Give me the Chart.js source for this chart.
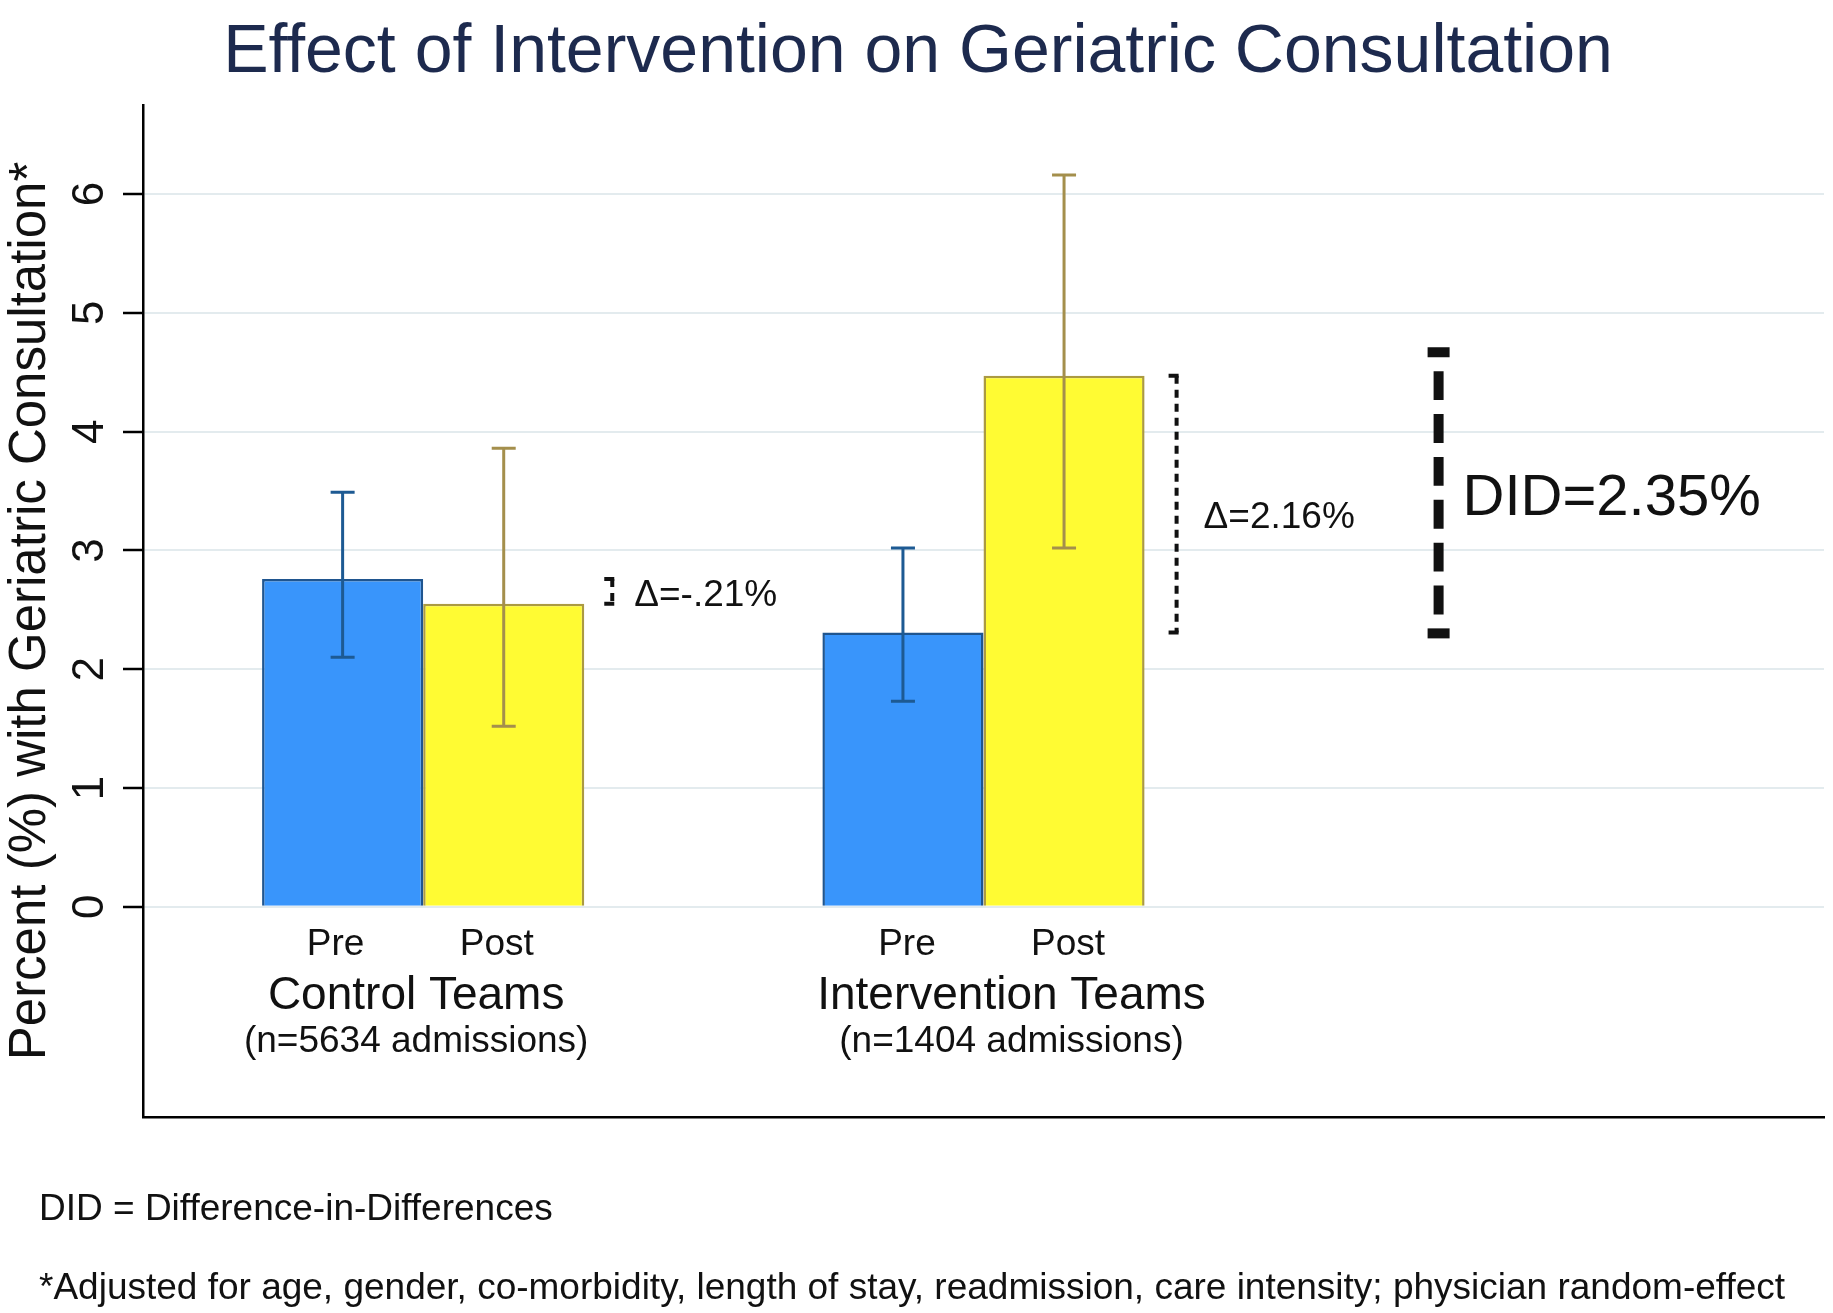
<!DOCTYPE html>
<html>
<head>
<meta charset="utf-8">
<script src="https://cdn.jsdelivr.net/npm/chart.js@4.4.1/dist/chart.umd.min.js"></script>
<style>
  html, body { margin: 0; padding: 0; background: #fff; }
  canvas { display: block; }
</style>
</head>
<body>
<canvas id="didChart" width="1833" height="1313"></canvas>
<script>
// groups on the x axis (third slot is left empty for the DID marker)
const groups = ['Control Teams', 'Intervention Teams', ''];
const groupSizes = ['(n=5634 admissions)', '(n=1404 admissions)'];
const phases = ['Pre', 'Post'];

// percent with geriatric consultation
const preValues = [2.76, 2.31];
const postValues = [2.55, 4.47];

// 95% CI bounds
const preLow = [2.10, 1.73];
const preHigh = [3.49, 3.02];
const postLow = [1.52, 3.02];
const postHigh = [3.86, 6.16];

const deltaLabels = ['Δ=-.21%', 'Δ=2.16%'];
const didValue = 2.35;
const didLabel = 'DID=2.35%';

const yTicks = [0, 1, 2, 3, 4, 5, 6];

const chartTitle = 'Effect of Intervention on Geriatric Consultation';
const yTitle = 'Percent (%) with Geriatric Consultation*';
const footnotes = [
  'DID = Difference-in-Differences',
  '*Adjusted for age, gender, co-morbidity, length of stay, readmission, care intensity; physician random-effect'
];

const FONT = "'Liberation Sans', Arial, Helvetica, sans-serif";

const errorBars = {
  id: 'errorBars',
  afterDatasetsDraw(chart) {
    const ctx = chart.ctx;
    const y = chart.scales.y;
    const bounds = [[preLow, preHigh, '#1d5a93'], [postLow, postHigh, '#a48f4c']];
    bounds.forEach(([lo, hi, color], i) => {
      const meta = chart.getDatasetMeta(i);
      meta.data.forEach((bar, j) => {
        if (lo[j] == null) return;
        const yLo = y.getPixelForValue(lo[j]);
        const yHi = y.getPixelForValue(hi[j]);
        ctx.save();
        ctx.strokeStyle = color;
        ctx.lineWidth = 3;
        ctx.beginPath();
        ctx.moveTo(bar.x, yLo);
        ctx.lineTo(bar.x, yHi);
        ctx.moveTo(bar.x - 12, yLo);
        ctx.lineTo(bar.x + 12, yLo);
        ctx.moveTo(bar.x - 12, yHi);
        ctx.lineTo(bar.x + 12, yHi);
        ctx.stroke();
        ctx.restore();
      });
    });
  }
};

function bracket(ctx, x, yTop, yBot, width, dash, cap) {
  ctx.save();
  ctx.strokeStyle = '#111';
  ctx.lineWidth = width;
  ctx.setLineDash(dash);
  ctx.beginPath();
  ctx.moveTo(x, yTop);
  ctx.lineTo(x, yBot);
  ctx.stroke();
  ctx.setLineDash([]);
  ctx.beginPath();
  ctx.moveTo(x - cap, yTop);
  ctx.lineTo(x + width / 2, yTop);
  ctx.moveTo(x - cap, yBot);
  ctx.lineTo(x + width / 2, yBot);
  ctx.stroke();
  ctx.restore();
}

const annotations = {
  id: 'annotations',
  afterDraw(chart) {
    const ctx = chart.ctx;
    const y = chart.scales.y;
    const preMeta = chart.getDatasetMeta(0);
    const postMeta = chart.getDatasetMeta(1);

    ctx.save();
    ctx.fillStyle = '#111';
    ctx.textBaseline = 'middle';

    // delta brackets next to each group
    for (let j = 0; j < 2; j++) {
      const post = postMeta.data[j];
      const x = post.x + post.width / 2 + (j === 0 ? 28 : 32);
      const yA = y.getPixelForValue(preValues[j]);
      const yB = y.getPixelForValue(postValues[j]);
      bracket(ctx, x, Math.min(yA, yB), Math.max(yA, yB), 4, [8, 6], 8);
      ctx.font = '37px ' + FONT;
      ctx.textAlign = 'left';
      ctx.fillText(deltaLabels[j], x + (j === 0 ? 22 : 27), (yA + yB) / 2 + (j === 1 ? 14 : 4));
    }

    // difference-in-differences marker
    const ip = postMeta.data[1];
    const dx = ip.x + ip.width / 2 + 294;
    const dBot = y.getPixelForValue(preValues[1]);
    const dTop = y.getPixelForValue(preValues[1] + didValue);
    const gap = 14;
    const nDash = 6;
    const span = (dBot - 4) - (dTop + 4) - 2 * gap;
    const dashLen = (span - (nDash - 1) * gap) / nDash;
    ctx.save();
    ctx.strokeStyle = '#111';
    ctx.lineWidth = 10;
    ctx.setLineDash([dashLen, gap]);
    ctx.beginPath();
    ctx.moveTo(dx, dTop + 4 + gap);
    ctx.lineTo(dx, dBot - 4 - gap + 0.5);
    ctx.stroke();
    ctx.restore();
    ctx.fillRect(dx - 11, dTop - 6, 22, 10);
    ctx.fillRect(dx - 11, dBot - 4, 22, 10);
    ctx.font = '58px ' + FONT;
    ctx.fillText(didLabel, dx + 24, (dTop + dBot) / 2 + 6);

    // labels under the bars
    ctx.textAlign = 'center';
    for (let j = 0; j < 2; j++) {
      const pre = preMeta.data[j];
      const post = postMeta.data[j];
      const shift = j === 0 ? -7 : 4;
      ctx.font = '37px ' + FONT;
      ctx.fillText(phases[0], pre.x + shift, 945);
      ctx.fillText(phases[1], post.x + shift, 945);
      const cx = (pre.x + post.x) / 2 + (j === 1 ? 28 : -7);
      ctx.font = '46px ' + FONT;
      ctx.fillText(groups[j], cx, 996);
      ctx.font = '37px ' + FONT;
      ctx.fillText(groupSizes[j], cx, 1042);
    }

    // title
    ctx.fillStyle = '#1d2a4e';
    ctx.font = '68px ' + FONT;
    ctx.fillText(chartTitle, 918, 53);

    // footnotes
    ctx.fillStyle = '#111';
    ctx.textAlign = 'left';
    ctx.font = '37px ' + FONT;
    ctx.fillText(footnotes[0], 39, 1210);
    ctx.fillText(footnotes[1], 39, 1289);
    ctx.restore();
  }
};

new Chart(document.getElementById('didChart'), {
  type: 'bar',
  data: {
    labels: groups,
    datasets: [{
      label: phases[0],
      data: preValues,
      backgroundColor: '#3995fb',
      borderColor: '#1f558f',
      borderWidth: 2.5,
      categoryPercentage: 0.575,
      barPercentage: 1.0
    }, {
      label: phases[1],
      data: postValues,
      backgroundColor: '#fffb33',
      borderColor: '#ab9a42',
      borderWidth: 2.5,
      categoryPercentage: 0.575,
      barPercentage: 1.0
    }]
  },
  options: {
    responsive: false,
    animation: false,
    layout: {
      padding: { left: 0, right: 9, top: 105, bottom: 196 }
    },
    scales: {
      x: {
        ticks: { display: false },
        grid: { display: false, drawTicks: false },
        border: { display: true, color: '#000', width: 2.5 },
        afterFit: scale => { scale.height = 0; }
      },
      y: {
        min: -1.77,
        max: 6.75,
        afterBuildTicks: axis => { axis.ticks = yTicks.map(v => ({ value: v })); },
        afterFit: scale => { scale.width = 143; },
        ticks: {
          minRotation: 90,
          maxRotation: 90,
          crossAlign: 'center',
          padding: 20,
          color: '#111',
          font: { family: FONT, size: 44 }
        },
        grid: {
          color: '#e3ebee',
          lineWidth: 2,
          tickColor: '#000',
          tickLength: 20,
          tickWidth: 2.5
        },
        border: { display: true, color: '#000', width: 2.5 },
        title: {
          display: true,
          text: yTitle,
          color: '#111',
          font: { family: FONT, size: 51 },
          padding: { top: 0, bottom: 0 }
        }
      }
    },
    plugins: {
      legend: { display: false },
      tooltip: { enabled: false },
      title: { display: false }
    }
  },
  plugins: [errorBars, annotations]
});
</script>
</body>
</html>
